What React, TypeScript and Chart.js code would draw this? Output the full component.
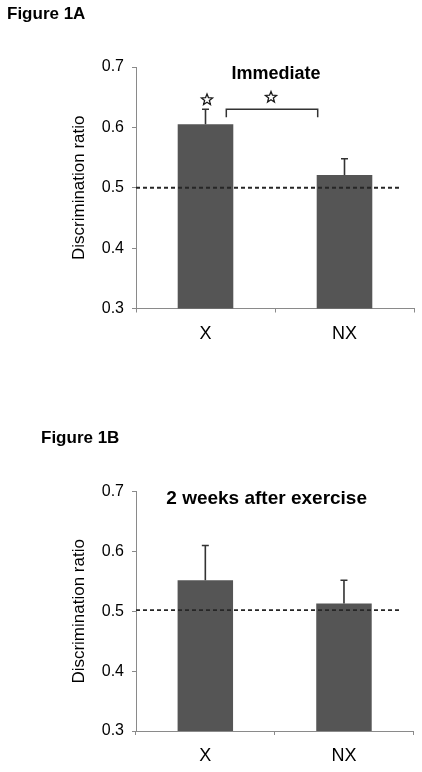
import React, { useEffect, useRef } from "react";
import { Chart, registerables } from "chart.js";

Chart.register(...registerables);

// ---------- data ----------
const categories = ["X", "NX"];
const immediateMeans = [0.605, 0.521];
const immediateErrors = [0.025, 0.027];
const twoWeekMeans = [0.552, 0.513];
const twoWeekErrors = [0.058, 0.039];
const chanceLevelA = 0.5;
const chanceLevelB = 0.502;
const bracketLevelA = 0.63;
const yMin = 0.3;
const yMax = 0.7;
const yStep = 0.1;
const yAxisTitle = "Discrimination ratio";
const panelTitleA = "Immediate";
const panelTitleB = "2 weeks after exercise";
const figureLabelA = "Figure 1A";
const figureLabelB = "Figure 1B";

const FONT = '"Liberation Sans", Arial, Helvetica, sans-serif';
const BAR_COLOR = "#555555";
const AXIS_COLOR = "#8a8a8a";
const INK = "#262626";

function drawStar(ctx: CanvasRenderingContext2D, cx: number, cy: number, ro: number, ri: number) {
  ctx.beginPath();
  for (let k = 0; k < 10; k++) {
    const r = k % 2 === 0 ? ro : ri;
    const a = -Math.PI / 2 + (k * Math.PI) / 5;
    const px = cx + r * Math.cos(a);
    const py = cy + r * Math.sin(a);
    if (k === 0) ctx.moveTo(px, py);
    else ctx.lineTo(px, py);
  }
  ctx.closePath();
  ctx.fillStyle = "#ffffff";
  ctx.fill();
  ctx.lineWidth = 1.3;
  ctx.strokeStyle = "#1a1a1a";
  ctx.stroke();
}

const annotationPlugin = {
  id: "figureAnnotations",
  afterDatasetsDraw(chart: any, _args: any, opts: any) {
    const { ctx, chartArea } = chart;
    const xs = chart.scales.x;
    const ys = chart.scales.y;
    const meta = chart.getDatasetMeta(0);
    ctx.save();

    // dashed chance line
    const yRef = ys.getPixelForValue(opts.chance);
    ctx.setLineDash([4, 3]);
    ctx.strokeStyle = INK;
    ctx.lineWidth = 1.8;
    ctx.beginPath();
    ctx.moveTo(chartArea.left, yRef);
    ctx.lineTo(xs.getPixelForValue(opts.chanceEnd), yRef);
    ctx.stroke();
    ctx.setLineDash([]);

    // error bars (upper half)
    ctx.strokeStyle = "#333333";
    ctx.lineWidth = 1.6;
    meta.data.forEach((bar: any, i: number) => {
      const top = ys.getPixelForValue(opts.means[i] + opts.errors[i]);
      ctx.beginPath();
      ctx.moveTo(bar.x, bar.y);
      ctx.lineTo(bar.x, top);
      ctx.moveTo(bar.x - 3.5, top);
      ctx.lineTo(bar.x + 3.5, top);
      ctx.stroke();
    });

    // significance bracket and stars
    if (opts.significance) {
      const b0 = meta.data[0];
      const b1 = meta.data[1];
      const by = ys.getPixelForValue(opts.bracketLevel);
      const bl = b0.x + b0.width / 2 - 7;
      const br = b1.x - b1.width / 2 + 1;
      ctx.strokeStyle = "#333333";
      ctx.lineWidth = 1.5;
      ctx.beginPath();
      ctx.moveTo(bl, by + 8);
      ctx.lineTo(bl, by);
      ctx.lineTo(br, by);
      ctx.lineTo(br, by + 8);
      ctx.stroke();
      const errTop = ys.getPixelForValue(opts.means[0] + opts.errors[0]);
      drawStar(ctx, b0.x + 1.5, errTop - 9.5, 5.8, 2.5);
      drawStar(ctx, (bl + br) / 2 - 1, by - 12, 5.8, 2.5);
    }

    // panel title
    ctx.fillStyle = "#000000";
    ctx.font = `bold ${opts.titleSize}px ${FONT}`;
    ctx.textAlign = "center";
    ctx.textBaseline = "middle";
    ctx.fillText(opts.title, (chartArea.left + chartArea.right) / 2 + opts.titleDx, chartArea.top + 7.5);

    ctx.restore();
  },
};

interface PanelProps {
  top: number;
  height: number;
  means: number[];
  errors: number[];
  chance: number;
  title: string;
  titleSize: number;
  titleDx: number;
  significance: boolean;
  padTop: number;
  padBottom: number;
  padRight: number;
}

function BarPanel(p: PanelProps) {
  const ref = useRef<HTMLCanvasElement | null>(null);
  useEffect(() => {
    if (!ref.current) return;
    const chart = new Chart(ref.current, {
      type: "bar",
      data: {
        labels: categories,
        datasets: [
          {
            data: p.means,
            backgroundColor: BAR_COLOR,
            borderWidth: 0,
            barPercentage: 0.4,
            categoryPercentage: 1,
          },
        ],
      },
      plugins: [annotationPlugin],
      options: {
        animation: false,
        responsive: false,
        maintainAspectRatio: false,
        layout: { padding: { left: 69, top: p.padTop, bottom: p.padBottom, right: p.padRight } },
        plugins: {
          legend: { display: false },
          tooltip: { enabled: false },
          title: { display: false },
          figureAnnotations: {
            means: p.means,
            errors: p.errors,
            chance: p.chance,
            chanceEnd: 1.4,
            significance: p.significance,
            bracketLevel: bracketLevelA,
            title: p.title,
            titleSize: p.titleSize,
            titleDx: p.titleDx,
          },
        } as any,
        scales: {
          x: {
            afterFit: (s: any) => {
              s.height = 40;
            },
            grid: {
              display: true,
              drawOnChartArea: false,
              drawTicks: true,
              tickLength: 4,
              color: AXIS_COLOR,
              offset: true,
            },
            border: { display: true, color: AXIS_COLOR, width: 1 },
            ticks: {
              padding: 10.5,
              color: "#000000",
              font: { size: 18, family: FONT },
            },
          },
          y: {
            min: yMin,
            max: yMax,
            afterFit: (s: any) => {
              s.width = 67;
            },
            grid: {
              display: true,
              drawOnChartArea: false,
              drawTicks: true,
              tickLength: 4,
              color: AXIS_COLOR,
            },
            border: { display: true, color: AXIS_COLOR, width: 1 },
            ticks: {
              stepSize: yStep,
              padding: 8,
              color: "#000000",
              font: { size: 16, family: FONT },
              callback: (v: any) => Number(v).toFixed(1),
            },
            title: {
              display: true,
              text: yAxisTitle,
              color: "#000000",
              padding: 0,
              font: { size: 17, family: FONT },
            },
          },
        },
      },
    });
    return () => chart.destroy();
  }, []);
  return (
    <canvas
      ref={ref}
      width={422}
      height={p.height}
      style={{ position: "absolute", left: 0, top: p.top, width: 422, height: p.height, display: "block" }}
    />
  );
}

const labelStyle: React.CSSProperties = {
  position: "absolute",
  fontFamily: FONT,
  fontWeight: "bold",
  fontSize: 17,
  lineHeight: "20px",
  color: "#000",
  whiteSpace: "nowrap",
};

export default function App() {
  return (
    <div style={{ position: "absolute", left: 0, top: 0, width: 422, height: 772, background: "#fff" }}>
      <BarPanel
        top={0}
        height={360}
        means={immediateMeans}
        errors={immediateErrors}
        chance={chanceLevelA}
        title={panelTitleA}
        titleSize={18}
        titleDx={1}
        significance={true}
        padTop={67}
        padBottom={11.5}
        padRight={8}
      />
      <BarPanel
        top={400}
        height={372}
        means={twoWeekMeans}
        errors={twoWeekErrors}
        chance={chanceLevelB}
        title={panelTitleB}
        titleSize={19}
        titleDx={-8}
        significance={false}
        padTop={91.7}
        padBottom={1}
        padRight={8.7}
      />
      <div style={{ ...labelStyle, left: 7, top: 4 }}>{figureLabelA}</div>
      <div style={{ ...labelStyle, left: 41, top: 428 }}>{figureLabelB}</div>
    </div>
  );
}
